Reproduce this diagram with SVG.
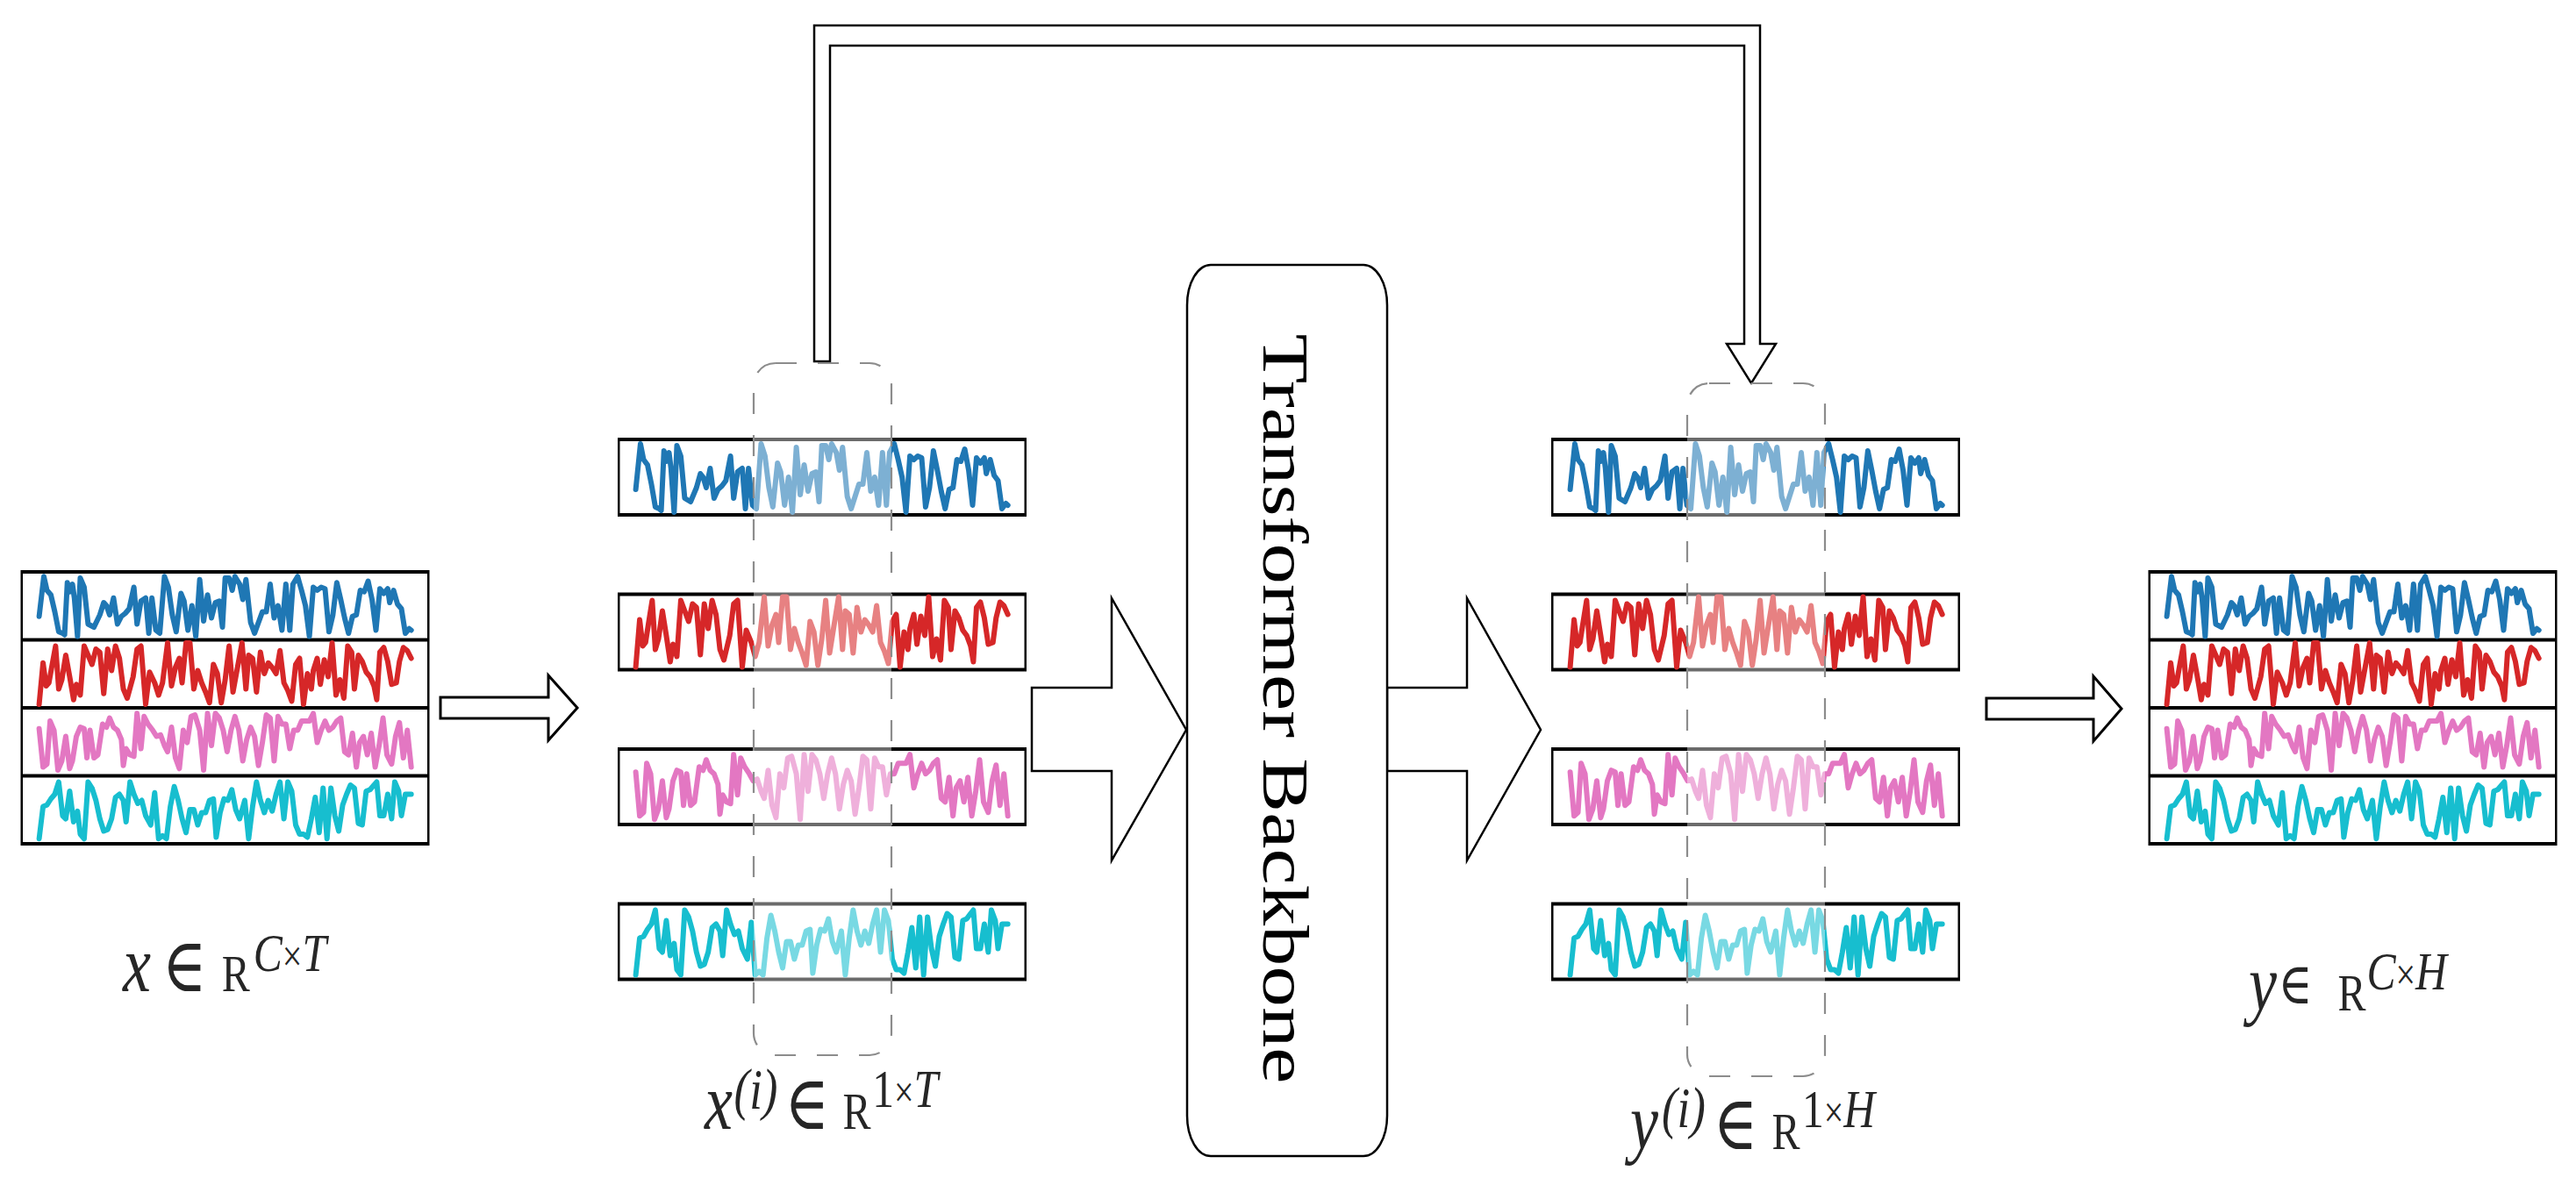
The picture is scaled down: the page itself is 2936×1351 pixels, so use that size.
<svg xmlns="http://www.w3.org/2000/svg" xmlns:xlink="http://www.w3.org/1999/xlink" width="2936" height="1351" viewBox="0 0 2936 1351">
<style>
.ts{fill:none;stroke-width:6;stroke-linejoin:round;stroke-linecap:round;vector-effect:non-scaling-stroke}
.bk{fill:#000}
.wh{fill:#fff}
.ov{fill:#fff;fill-opacity:0.42;stroke:#8c8c8c;stroke-width:2.2;stroke-dasharray:24 24}
.arr{fill:#fff;stroke:#000;stroke-width:2.5;stroke-linejoin:miter}
.sarr{fill:#fff;stroke:#000;stroke-width:3;stroke-linejoin:miter}
.box{fill:#fff;stroke:#000;stroke-width:2.5}
.ser{font-family:"Liberation Serif","Times New Roman",serif;fill:#262626}
.it{font-style:italic}
.op{font-family:"DejaVu Serif",serif}
.bb{font-family:"Liberation Serif","Times New Roman",serif;font-size:74px;fill:#000}
</style>
<defs>
<path id="s-blue" class="ts" stroke="#1f77b4" d="M0,135 L12,5 L20,50 L30,65 L40,120 L50,185 L60,190 L65,195 L72,25 L78,55 L85,30 L90,75 L98,200 L105,10 L115,40 L125,160 L140,170 L155,130 L165,90 L172,100 L180,130 L190,75 L200,160 L210,135 L220,125 L230,110 L242,40 L250,160 L260,85 L272,75 L280,190 L288,75 L298,180 L308,190 L320,5 L330,40 L340,130 L350,185 L362,60 L370,85 L380,180 L390,100 L400,200 L410,15 L420,150 L430,65 L440,140 L450,90 L460,85 L468,170 L475,10 L485,10 L493,50 L500,5 L512,30 L520,80 L528,15 L540,155 L550,190 L560,155 L570,120 L580,120 L590,30 L600,140 L610,100 L620,180 L630,30 L640,180 L648,30 L660,5 L670,50 L680,100 L690,200 L700,40 L710,50 L720,40 L730,45 L740,185 L750,130 L760,25 L770,80 L780,140 L790,190 L800,135 L810,130 L820,50 L830,55 L840,20 L850,80 L860,180 L870,45 L880,60 L890,45 L895,90 L905,50 L915,95 L925,110 L935,190 L945,175 L950,180"/>
<path id="s-red" class="ts" stroke="#d62728" d="M0,200 L10,65 L18,140 L25,130 L32,80 L42,10 L50,150 L58,120 L68,40 L78,110 L88,185 L95,135 L105,170 L115,10 L125,40 L135,70 L145,20 L155,30 L165,165 L175,20 L185,90 L195,10 L205,50 L215,150 L225,180 L240,110 L250,20 L260,10 L272,200 L282,95 L295,130 L305,170 L315,130 L328,0 L338,140 L348,80 L358,50 L365,130 L375,0 L385,0 L395,150 L405,90 L415,130 L425,160 L435,195 L445,70 L455,100 L465,195 L475,120 L485,10 L495,160 L505,90 L518,0 L528,150 L535,40 L545,50 L555,160 L565,30 L575,100 L585,65 L595,80 L605,100 L615,25 L625,130 L635,155 L645,190 L655,70 L665,50 L675,200 L685,100 L695,150 L700,90 L710,50 L718,135 L728,55 L738,110 L748,0 L758,170 L768,120 L778,180 L788,10 L798,30 L805,150 L815,40 L825,60 L835,95 L845,110 L855,140 L862,185 L870,30 L880,15 L890,60 L900,135 L912,130 L920,60 L930,15 L940,25 L950,50"/>
<path id="s-pink" class="ts" stroke="#e377c2" d="M0,58 L10,183 L20,173 L28,33 L38,63 L48,193 L58,163 L68,83 L78,188 L85,163 L95,83 L105,53 L115,58 L122,153 L130,63 L140,153 L150,143 L162,43 L172,53 L180,23 L190,53 L200,63 L210,93 L215,178 L222,123 L232,143 L242,148 L250,8 L260,123 L268,18 L278,43 L290,63 L300,83 L310,78 L320,113 L328,133 L338,53 L348,153 L358,188 L368,63 L378,103 L388,18 L398,13 L410,63 L420,193 L430,8 L440,113 L450,8 L460,23 L470,63 L480,133 L490,63 L500,18 L510,63 L520,163 L530,93 L540,53 L550,83 L560,178 L570,103 L580,13 L590,23 L600,163 L610,18 L620,43 L630,43 L640,123 L650,63 L660,63 L670,33 L680,33 L690,33 L700,8 L710,103 L720,63 L730,33 L740,63 L750,53 L760,33 L770,23 L780,133 L790,143 L800,73 L810,183 L818,103 L828,83 L838,143 L848,73 L858,183 L868,113 L878,23 L888,143 L900,173 L910,83 L920,38 L930,153 L940,63 L950,183"/>
<path id="s-cyan" class="ts" stroke="#17becf" d="M0,195 L10,90 L20,85 L30,65 L40,50 L50,10 L60,120 L68,130 L78,40 L88,140 L98,105 L105,180 L115,195 L125,10 L135,30 L145,70 L155,130 L165,170 L175,165 L185,130 L195,60 L205,50 L215,70 L222,140 L232,10 L242,50 L252,80 L262,70 L272,120 L285,150 L295,45 L305,195 L315,185 L325,195 L335,90 L345,25 L355,70 L365,130 L375,175 L385,100 L395,100 L405,150 L415,110 L425,110 L435,70 L445,65 L452,190 L462,110 L472,65 L482,70 L492,35 L502,100 L512,130 L525,70 L535,195 L545,90 L555,10 L565,70 L575,110 L585,70 L595,105 L605,50 L615,10 L625,130 L635,10 L645,40 L655,150 L665,180 L675,180 L685,190 L695,130 L705,60 L715,175 L725,30 L735,195 L745,30 L755,120 L765,170 L775,85 L785,50 L795,20 L805,30 L815,145 L825,150 L835,40 L845,35 L855,20 L862,10 L870,120 L880,120 L890,50 L900,130 L908,10 L918,40 L925,120 L935,50 L945,50 L950,50"/>
</defs>
<rect width="2936" height="1351" fill="#fff"/>

<g id="connectors">
  <path id="arrow-input" class="sarr" d="M502,795 L625,795 L625,770 L658,807 L625,844 L625,819 L502,819 Z"/>
  <path id="arrow-to-backbone" class="arr" d="M1176,784 L1267,784 L1267,682 L1352,832 L1267,981 L1267,879 L1176,879 Z"/>
  <path id="arrow-from-backbone" class="arr" d="M1581,784 L1672,784 L1672,682 L1756,832 L1672,981 L1672,879 L1581,879 Z"/>
  <path id="arrow-output" class="sarr" d="M2264,796 L2386,796 L2386,771 L2418,808 L2386,845 L2386,820 L2264,820 Z"/>
  <path id="arrow-feedback" class="arr" d="M928,412 L928,29 L2006,29 L2006,392 L2024,392 L1996,437 L1968,392 L1988,392 L1988,52 L946,52 L946,412 Z"/>
</g>

<g id="node-input">
  <rect class="bk" x="23.5" y="650" width="466" height="314"/>
  <rect class="wh" x="26" y="654" width="461" height="73.5"/>
  <rect class="wh" x="26" y="731.5" width="461" height="73.5"/>
  <rect class="wh" x="26" y="809" width="461" height="73.5"/>
  <rect class="wh" x="26" y="886.5" width="461" height="73.5"/>
  <use href="#s-blue" transform="translate(44.6,655.5) scale(0.4464,0.35)"/>
  <use href="#s-red" transform="translate(44.6,733) scale(0.4464,0.35)"/>
  <use href="#s-pink" transform="translate(44.6,810.5) scale(0.4464,0.35)"/>
  <use href="#s-cyan" transform="translate(44.6,888) scale(0.4464,0.35)"/>
  <text class="ser" transform="translate(140,1130) scale(0.8,1)"><tspan class="it" font-size="90" x="0" y="0">x</tspan><tspan class="op" font-size="86" x="56" y="0">∈</tspan><tspan font-size="60" x="141" y="0">R</tspan><tspan class="it" font-size="62" x="186" y="-23">C</tspan><tspan font-size="50">×</tspan><tspan class="it" font-size="62">T</tspan></text>
</g>

<g id="node-channels-in">
  <rect class="bk" x="704" y="499" width="466" height="90"/><rect class="wh" x="706.5" y="503" width="461" height="82"/>
  <rect class="bk" x="704" y="675.5" width="466" height="90"/><rect class="wh" x="706.5" y="679.5" width="461" height="82"/>
  <rect class="bk" x="704" y="852" width="466" height="90"/><rect class="wh" x="706.5" y="856" width="461" height="82"/>
  <rect class="bk" x="704" y="1028.5" width="466" height="90"/><rect class="wh" x="706.5" y="1032.5" width="461" height="82"/>
  <use href="#s-blue" transform="translate(724.6,504) scale(0.4464,0.4)"/>
  <use href="#s-red" transform="translate(724.6,680.5) scale(0.4464,0.4)"/>
  <use href="#s-pink" transform="translate(724.6,857) scale(0.4464,0.4)"/>
  <use href="#s-cyan" transform="translate(724.6,1033.5) scale(0.4464,0.4)"/>
  <rect class="ov" x="859" y="414" width="157" height="789" rx="25" ry="25"/>
  <text class="ser" transform="translate(803,1287) scale(0.8,1)"><tspan class="it" font-size="90" x="0" y="0">x</tspan><tspan class="it" font-size="66" x="42" y="-23">(i)</tspan><tspan class="op" font-size="86" x="114" y="0">∈</tspan><tspan font-size="60" x="197" y="0">R</tspan><tspan font-size="62" x="239" y="-25">1</tspan><tspan font-size="50">×</tspan><tspan class="it" font-size="62">T</tspan></text>
</g>

<g id="node-backbone">
  <rect class="box" x="1353" y="302" width="228" height="1016" rx="27" ry="46"/>
  <text class="bb" transform="translate(1440,808) rotate(90)" x="0" y="0" text-anchor="middle" textLength="855" lengthAdjust="spacingAndGlyphs">Transformer Backbone</text>
</g>

<g id="node-channels-out">
  <rect class="bk" x="1768" y="499" width="466" height="90"/><rect class="wh" x="1770.5" y="503" width="461" height="82"/>
  <rect class="bk" x="1768" y="675.5" width="466" height="90"/><rect class="wh" x="1770.5" y="679.5" width="461" height="82"/>
  <rect class="bk" x="1768" y="852" width="466" height="90"/><rect class="wh" x="1770.5" y="856" width="461" height="82"/>
  <rect class="bk" x="1768" y="1028.5" width="466" height="90"/><rect class="wh" x="1770.5" y="1032.5" width="461" height="82"/>
  <use href="#s-blue" transform="translate(1789.6,504) scale(0.4464,0.4)"/>
  <use href="#s-red" transform="translate(1789.6,680.5) scale(0.4464,0.4)"/>
  <use href="#s-pink" transform="translate(1789.6,857) scale(0.4464,0.4)"/>
  <use href="#s-cyan" transform="translate(1789.6,1033.5) scale(0.4464,0.4)"/>
  <rect class="ov" x="1923" y="437" width="157" height="790" rx="25" ry="25"/>
  <text class="ser" transform="translate(1858,1310) scale(0.8,1)"><tspan class="it" font-size="90" x="0" y="0">y</tspan><tspan class="it" font-size="66" x="45" y="-25">(i)</tspan><tspan class="op" font-size="86" x="118" y="0">∈</tspan><tspan font-size="60" x="202" y="0">R</tspan><tspan font-size="62" x="245" y="-25">1</tspan><tspan font-size="50">×</tspan><tspan class="it" font-size="62">H</tspan></text>
</g>

<g id="node-output">
  <rect class="bk" x="2448.5" y="650" width="466" height="314"/>
  <rect class="wh" x="2451" y="654" width="461" height="73.5"/>
  <rect class="wh" x="2451" y="731.5" width="461" height="73.5"/>
  <rect class="wh" x="2451" y="809" width="461" height="73.5"/>
  <rect class="wh" x="2451" y="886.5" width="461" height="73.5"/>
  <use href="#s-blue" transform="translate(2469.6,655.5) scale(0.4464,0.35)"/>
  <use href="#s-red" transform="translate(2469.6,733) scale(0.4464,0.35)"/>
  <use href="#s-pink" transform="translate(2469.6,810.5) scale(0.4464,0.35)"/>
  <use href="#s-cyan" transform="translate(2469.6,888) scale(0.4464,0.35)"/>
  <text class="ser" transform="translate(2563,1152) scale(0.8,1)"><tspan class="it" font-size="90" x="0" y="0">y</tspan><tspan class="op" font-size="66" x="42" y="-8">∈</tspan><tspan font-size="60" x="127" y="0">R</tspan><tspan class="it" font-size="62" x="168" y="-24">C</tspan><tspan font-size="50">×</tspan><tspan class="it" font-size="62">H</tspan></text>
</g>
</svg>
